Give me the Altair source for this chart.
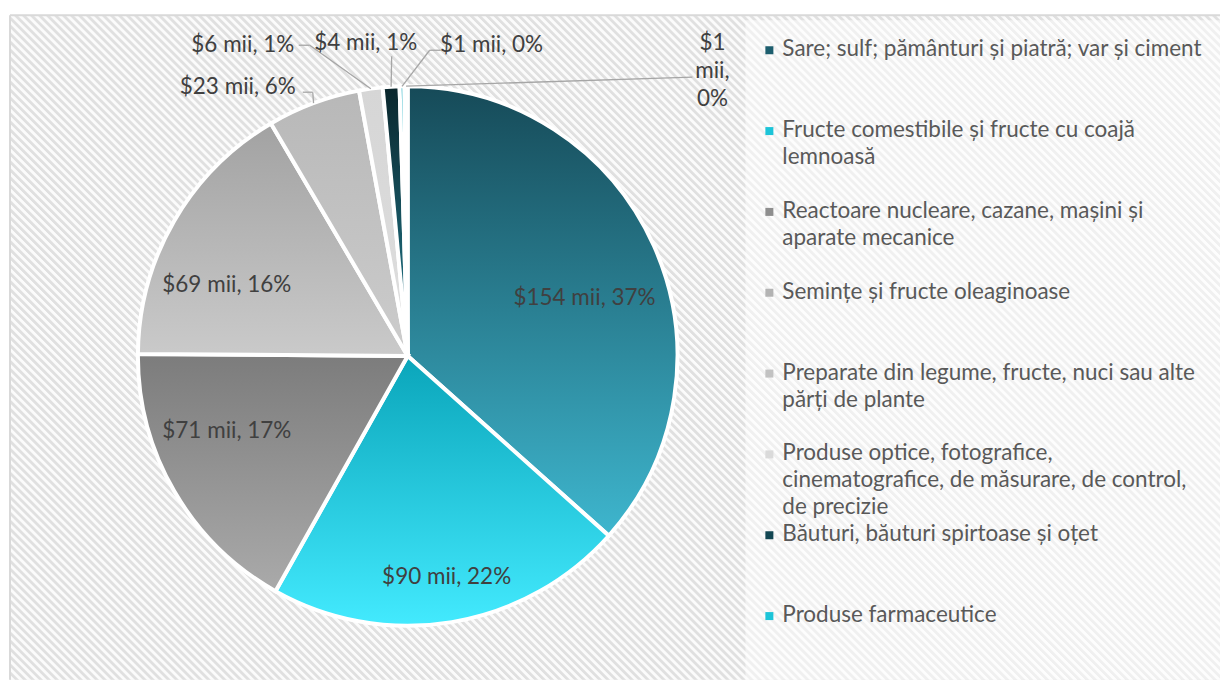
import math
import altair as alt
import pandas as pd

# ---------------- data ----------------
categories = [
    "Sare; sulf; pământuri și piatră; var și ciment",
    "Fructe comestibile și fructe cu coajă lemnoasă",
    "Reactoare nucleare, cazane, mașini și aparate mecanice",
    "Semințe și fructe oleaginoase",
    "Preparate din legume, fructe, nuci sau alte părți de plante",
    "Produse optice, fotografice, cinematografice, de măsurare, de control, de precizie",
    "Băuturi, băuturi spirtoase și oțet",
    "Produse farmaceutice",
    "Altele",
]
values = [153.6, 90.4, 71.2, 68.9, 23.4, 5.9, 4.2, 1.2, 0.8]  # mii USD

# ---------------- styling ----------------
legend_lines = [
    ["Sare; sulf; pământuri și piatră; var și ciment"],
    ["Fructe comestibile și fructe cu coajă", "lemnoasă"],
    ["Reactoare nucleare, cazane, mașini și", "aparate mecanice"],
    ["Semințe și fructe oleaginoase"],
    ["Preparate din legume, fructe, nuci sau alte", "părți de plante"],
    ["Produse optice, fotografice,", "cinematografice, de măsurare, de control,", "de precizie"],
    ["Băuturi, băuturi spirtoase și oțet"],
    ["Produse farmaceutice"],
    [""],
]
grad_top = ["#164a58", "#0aa5ba", "#7c7c7c", "#a2a2a2", "#b8b8b8", "#d6d6d6", "#0a262c", "#0aa5ba", "#6e6e6e"]
grad_bot = ["#3eb6ce", "#43eafe", "#aaaaaa", "#cacaca", "#cccccc", "#dedede", "#237f93", "#43eafe", "#9a9a9a"]
legend_col = ["#1d5e6e", "#1cc4d8", "#8e8e8e", "#b3b3b3", "#c2c2c2", "#dadada", "#124652", "#1cc4d8", "#888888"]
in_legend = [True] * 8 + [False]

# data-label layout (view px): text centre (first line), leader start, leader elbow
lab_x = [575, 437, 217, 217, 228, 233, 356, 482, 703]
lab_y = [282, 561, 415, 269, 71, 29, 27, 29, 27]
lead_sx = [None, None, None, None, 293, 289, 382, 431, 683]
lead_sy = [None, None, None, None, 77, 30, 41, 35, 62]
lead_ex = [None, None, None, None, 303, 300, 382, 420, 683]
lead_ey = [None, None, None, None, 77, 30, 41, 35, 62]
wrap_label = [False] * 8 + [True]

W, H = 1211, 665
CX, CY, R = 398, 341, 270
FONT = "Lato"
FS = 22.5

df = pd.DataFrame({
    "cat": categories,
    "value": values,
    "idx": list(range(len(categories))),
    "leg": ["\n".join(l) for l in legend_lines],
    "inleg": in_legend,
    "tx": lab_x, "ty": lab_y,
    "sx": lead_sx, "sy": lead_sy, "ex": lead_ex, "ey": lead_ey,
    "wrap": wrap_label,
})

total = sum(values)
theta_scale = alt.Scale(domain=[0, total], range=[0, 2 * math.pi], nice=False, zero=False)
xs = alt.Scale(domain=[0, W], range=[0, W], nice=False, zero=False)
ys = alt.Scale(domain=[0, H], range=[0, H], nice=False, zero=False)

base = (
    alt.Chart(df)
    .transform_joinaggregate(total="sum(value)")
    .transform_window(cum="sum(value)", sort=[alt.SortField("idx")], frame=[None, 0])
    .transform_calculate(
        start="datum.cum - datum.value",
        mid="datum.cum - datum.value / 2",
    )
    .transform_calculate(
        ang="2 * PI * datum.mid / datum.total",
        pct="100 * datum.value / datum.total",
    )
    .transform_calculate(
        lbl="'$' + format(datum.value, '.0f') + ' mii, ' + format(datum.pct, '.0f') + '%'",
        edge_x=f"{CX} + {R} * sin(datum.ang)",
        edge_y=f"{CY} - {R} * cos(datum.ang)",
    )
    .transform_calculate(
        lbl2="datum.wrap ? join(split(datum.lbl, ' '), '\\n') : datum.lbl",
        leg_y="33 + datum.idx * 80.9",
    )
)

layers = []
one = pd.DataFrame({"a": [0]})

# hatched background (diagonal stripes drawn as a striped linear gradient)
S = W
period = 8 / math.sqrt(2)
n = int(math.ceil(S * math.sqrt(2) / period))
stops = []
for k in range(n):
    o = k / n
    p = 1 / n
    stops += [
        alt.GradientStop(offset=o, color="#e0e0e0"),
        alt.GradientStop(offset=o + 0.34 * p, color="#e0e0e0"),
        alt.GradientStop(offset=o + 0.52 * p, color="#fbfbfb"),
        alt.GradientStop(offset=o + 0.86 * p, color="#fbfbfb"),
    ]
hatch = alt.Gradient(gradient="linear", x1=0, y1=1, x2=1, y2=0, stops=stops)
bg = alt.Chart(one).mark_rect(fill=hatch, clip=True).encode(
    x=alt.value(0), x2=alt.value(S), y=alt.value(0), y2=alt.value(S)
)
layers.append(bg)

# chart-area border (left and top edges; the others run off the page)
border_l = alt.Chart(one).mark_rule(color="#d9d9d9", strokeWidth=2).encode(
    x=alt.value(0), y=alt.value(0), y2=alt.value(H)
)
border_t = alt.Chart(one).mark_rule(color="#d9d9d9", strokeWidth=2).encode(
    x=alt.value(0), x2=alt.value(W), y=alt.value(0)
)
layers += [border_l, border_t]

# legend panel (lighter area)
panel = alt.Chart(one).mark_rect(fill="#ffffff", opacity=0.5).encode(
    x=alt.value(736), x2=alt.value(W), y=alt.value(5), y2=alt.value(H)
)
layers.append(panel)

# pie slices, each with its own vertical gradient
for i in range(len(categories)):
    grad = alt.Gradient(
        gradient="linear", x1=0, y1=0, x2=0, y2=1,
        stops=[alt.GradientStop(offset=0, color=grad_top[i]),
               alt.GradientStop(offset=1, color=grad_bot[i])],
    )
    arc = (
        base.transform_filter(alt.datum.idx == i)
        .mark_arc(fill=grad, stroke="white", strokeWidth=4, radius=R)
        .encode(
            theta=alt.Theta("start:Q", scale=theta_scale),
            theta2="cum:Q",
            x=alt.value(CX),
            y=alt.value(CY),
        )
    )
    layers.append(arc)

# leader lines
stub = (
    base.transform_filter("datum.idx >= 4")
    .mark_rule(color="#a6a6a6", strokeWidth=1.3)
    .encode(x=alt.X("sx:Q", scale=xs, axis=None), y=alt.Y("sy:Q", scale=ys, axis=None), x2="ex:Q", y2="ey:Q")
)
lead = (
    base.transform_filter("datum.idx >= 4")
    .mark_rule(color="#a6a6a6", strokeWidth=1.3)
    .encode(x=alt.X("ex:Q", scale=xs, axis=None), y=alt.Y("ey:Q", scale=ys, axis=None), x2="edge_x:Q", y2="edge_y:Q")
)
layers += [stub, lead]

# data labels
labels = (
    base.mark_text(font=FONT, fontSize=FS, color="#404040", align="center", baseline="alphabetic", dy=8,
                   lineBreak="\n", lineHeight=28)
    .encode(x=alt.X("tx:Q", scale=xs, axis=None), y=alt.Y("ty:Q", scale=ys, axis=None), text="lbl2:N")
)
layers.append(labels)

# legend
leg_sq = (
    base.transform_filter("datum.inleg")
    .mark_square(size=64, opacity=1)
    .encode(
        x=alt.value(760),
        y=alt.Y("leg_y:Q", scale=ys, axis=None),
        yOffset=alt.value(2),
        color=alt.Color("cat:N", scale=alt.Scale(domain=categories, range=legend_col), legend=None),
    )
)
leg_tx = (
    base.transform_filter("datum.inleg")
    .mark_text(font=FONT, fontSize=FS, color="#595959", align="left", baseline="alphabetic", dy=8,
               lineBreak="\n", lineHeight=27)
    .encode(x=alt.value(773), y=alt.Y("leg_y:Q", scale=ys, axis=None), text="leg:N")
)
layers += [leg_sq, leg_tx]

chart = (
    alt.layer(*layers)
    .properties(width=W, height=H, padding={"left": 1, "top": 6, "right": 0, "bottom": 0})
    .configure_view(fill="#eeeeee", stroke=None)
)

chart.save("out.html", embed_options={"renderer": "svg", "actions": False})
